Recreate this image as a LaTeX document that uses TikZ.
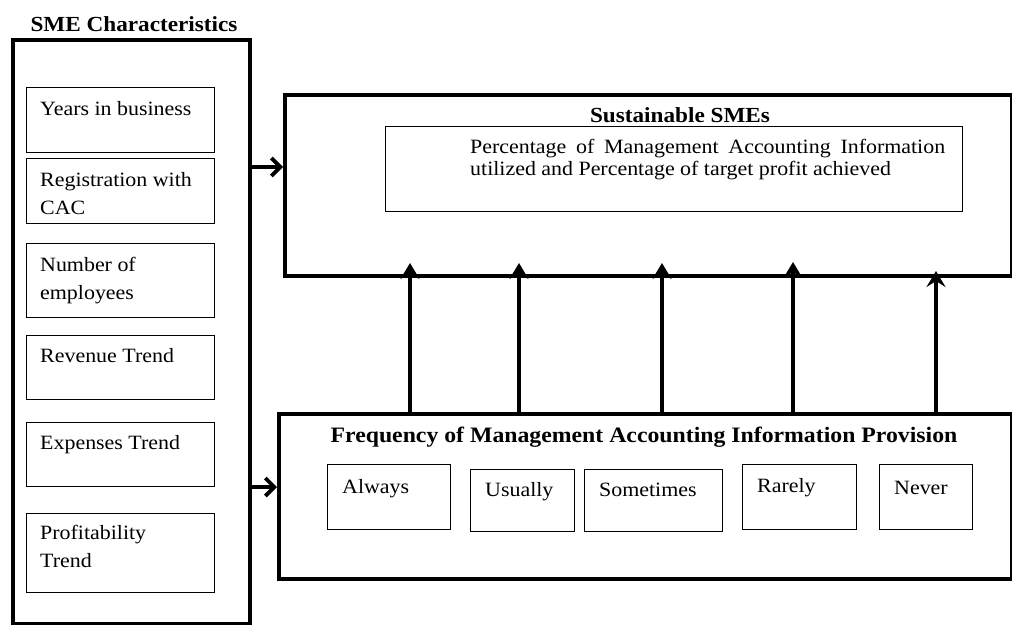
\documentclass[tikz,border=0pt]{standalone}
\usepackage{fontspec}
\setmainfont[FakeStretch=1.08]{Liberation Serif}
\usetikzlibrary{arrows.meta,calc}
\begin{document}
\begin{tikzpicture}[x=1pt,y=-1pt,
  outer/.style={draw, line width=3.8pt, inner sep=0pt, anchor=north west},
  inbox/.style={draw, line width=1.4pt, inner sep=0pt, anchor=north west},
  lbl/.style={anchor=base west, inner sep=0pt, font=\fontsize{20.3}{28}\selectfont, align=left},
  ttl/.style={anchor=base, inner sep=0pt, font=\fontsize{21.5}{26}\selectfont\bfseries},
  conn/.style={line width=3.8pt, -{Straight Barb[length=9pt,width=18pt]}},
  upconn/.style={line width=3.8pt, -{Stealth[length=16pt,width=19pt,inset=6pt]}}]
\useasboundingbox (0,0) rectangle (1012,624);

% ---- SME characteristics
\node[ttl] (smet) at (134,31) {SME Characteristics};
\node[outer, minimum width=237, minimum height=584] (sme) at (11,38) {};

\node[inbox, minimum width=188, minimum height=65] (b1) at (26,87) {};
\node[inbox, minimum width=188, minimum height=65] (b2) at (26,158) {};
\node[inbox, minimum width=188, minimum height=74] (b3) at (26,243) {};
\node[inbox, minimum width=188, minimum height=64] (b4) at (26,335) {};
\node[inbox, minimum width=188, minimum height=64] (b5) at (26,422) {};
\node[inbox, minimum width=188, minimum height=79] (b6) at (26,513) {};

\node[lbl] (t1) at ($(b1.north west)+(14,28)$) {Years in business};
\node[lbl] (t2) at ($(b2.north west)+(14,56)$) {Registration with\\CAC};
\node[lbl] (t3) at ($(b3.north west)+(14,56)$) {Number of\\employees};
\node[lbl] (t4) at ($(b4.north west)+(14,27)$) {Revenue Trend};
\node[lbl] (t5) at ($(b5.north west)+(14,27)$) {Expenses Trend};
\node[lbl] (t6) at ($(b6.north west)+(14,54)$) {Profitability\\Trend};

% ---- Sustainable SMEs
\node[outer, minimum width=727, minimum height=181] (sus) at (283,93) {};
\node[ttl] (sust) at (680,122) {Sustainable SMEs};
\node[inbox, minimum width=577, minimum height=85] (pct) at (385,126) {};
\node[anchor=north west, inner sep=0pt, align=left, font=\fontsize{20.3}{22.5}\selectfont] (pctt) at (470,139)
  {\makebox[475pt][s]{Percentage of Management Accounting Information}\\utilized and Percentage of target profit achieved};

% ---- Frequency
\node[outer, minimum width=733, minimum height=165] (frq) at (277,412) {};
\node[ttl, font=\fontsize{22}{26}\selectfont\bfseries] (frqt) at (644,442) {Frequency of Management Accounting Information Provision};

\node[inbox, minimum width=123, minimum height=65] (f1) at (327,464) {};
\node[inbox, minimum width=104, minimum height=62] (f2) at (470,469) {};
\node[inbox, minimum width=138, minimum height=62] (f3) at (584,469) {};
\node[inbox, minimum width=114, minimum height=65] (f4) at (742,464) {};
\node[inbox, minimum width=93, minimum height=65] (f5) at (879,464) {};

\node[lbl] (ft1) at ($(f1.north west)+(15,29)$) {Always};
\node[lbl] (ft2) at ($(f2.north west)+(15,27)$) {Usually};
\node[lbl] (ft3) at ($(f3.north west)+(15,27)$) {Sometimes};
\node[lbl] (ft4) at ($(f4.north west)+(15,28)$) {Rarely};
\node[lbl] (ft5) at ($(f5.north west)+(15,30)$) {Never};

% ---- connectors
\coordinate (h1) at (283,167);
\coordinate (h2) at (277,487);
\draw[conn] (sme.east |- h1) -- (h1);
\draw[conn] (sme.east |- h2) -- (h2);

\coordinate (u1) at (410,263);
\coordinate (u2) at (519,263);
\coordinate (u3) at (662,263);
\coordinate (u4) at (793,262);
\coordinate (u5) at (936,271);
\foreach \u in {u1,u2,u3,u4,u5}
  \draw[upconn] (frq.north -| \u) -- (\u);
\end{tikzpicture}
\end{document}
